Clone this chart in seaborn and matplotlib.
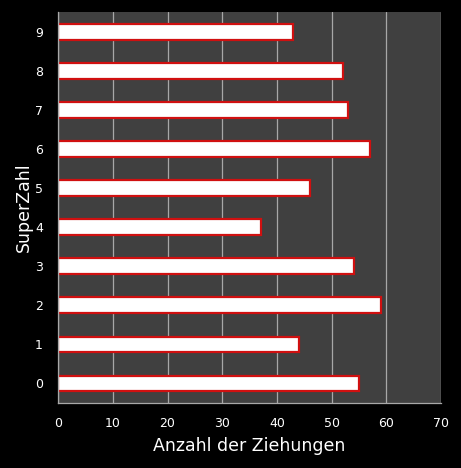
import pandas as pd
import matplotlib
matplotlib.use("Agg")
import matplotlib.pyplot as plt
import seaborn as sns

# Superzahl and how often it was drawn
superzahl = ['0', '1', '2', '3', '4', '5', '6', '7', '8', '9']
anzahl = [55, 44, 59, 54, 37, 46, 57, 53, 52, 43]

df = pd.DataFrame({'SuperZahl': superzahl, 'Anzahl': anzahl})

sns.set_style("dark")
plt.rcParams['font.family'] = ['DejaVu Sans']

fig = plt.figure(figsize=(4.61, 4.68), dpi=100, facecolor='black')
ax = fig.add_axes([0.126, 0.139, 0.831, 0.835])
ax.set_facecolor('#404040')

sns.barplot(data=df, x='Anzahl', y='SuperZahl', order=superzahl[::-1],
            orient='h', color='white', edgecolor='#d01010', linewidth=1.6,
            width=0.4, saturation=1, ax=ax)

ax.set_xlim(0, 70)
ax.set_ylim(9.5, -0.5)
ax.set_xticks(range(0, 71, 10))
ax.grid(axis='x', color='#a8a8a8', linewidth=0.9)
ax.grid(axis='y', visible=False)
ax.set_axisbelow(True)

for s in ['top', 'right']:
    ax.spines[s].set_visible(False)
for s in ['left', 'bottom']:
    ax.spines[s].set_visible(True)
    ax.spines[s].set_color('#a8a8a8')
    ax.spines[s].set_linewidth(0.9)

ax.tick_params(colors='white', labelsize=9, length=0)
ax.tick_params(axis='y', pad=11)
ax.tick_params(axis='x', pad=10)
ax.set_xlabel('Anzahl der Ziehungen', color='white', fontsize=12.5, labelpad=5)
ax.set_ylabel('SuperZahl', color='white', fontsize=12.5)
ax.yaxis.set_label_coords(-0.066, 0.5)

fig.savefig('out.png', dpi=100, facecolor='black')
